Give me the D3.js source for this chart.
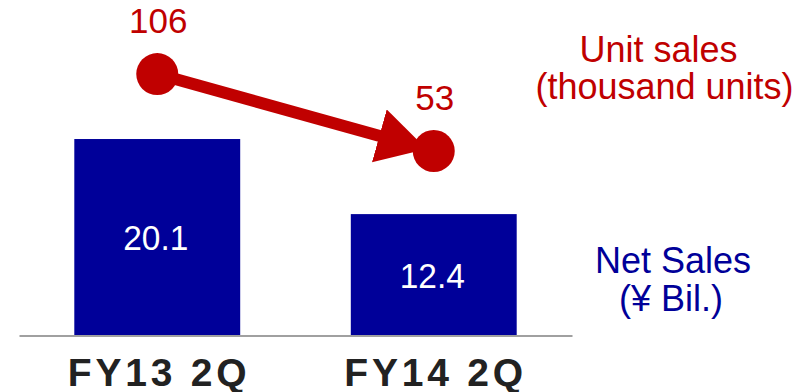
<!DOCTYPE html>
<html>
<head>
<meta charset="utf-8">
<script src="https://cdn.jsdelivr.net/npm/d3@7"></script>
<style>
  html, body { margin: 0; padding: 0; background: #ffffff; }
  svg { display: block; }
  text { font-family: "Liberation Sans", Arial, Helvetica, sans-serif; }
</style>
</head>
<body>
<svg id="chart" width="803" height="392"></svg>
<script>
// ---- data ----
const categories = ["FY13 2Q", "FY14 2Q"];
const netSales = [20.1, 12.4];          // ¥ Bil. (bars)
const unitSales = [106, 53];            // thousand units (line)
const netSalesLabel = ["Net Sales", "(¥ Bil.)"];
const unitSalesLabel = ["Unit sales", "(thousand units)"];

// ---- styles ----
const BLUE = "#000099";
const RED = "#c00000";

const svg = d3.select("#chart");

const x = d3.scaleBand()
  .domain(categories)
  .range([19, 572])
  .paddingInner(0.4)
  .paddingOuter(0.2);

const yBar = d3.scaleLinear().domain([0, 24]).range([335, 101]);
const yLine = d3.scaleLinear().domain([0, 120]).range([228, 53.7]);

// bars
svg.append("g").selectAll("rect")
  .data(categories)
  .join("rect")
  .attr("x", d => x(d))
  .attr("width", x.bandwidth())
  .attr("y", (d, i) => yBar(netSales[i]))
  .attr("height", (d, i) => yBar(0) - yBar(netSales[i]))
  .attr("fill", BLUE);

// bar value labels (slightly condensed, as in the reference)
svg.append("g").selectAll("text")
  .data(categories)
  .join("text")
  .attr("transform", (d, i) =>
    `translate(${x(d) + x.bandwidth() / 2 - 1.5},${(yBar(netSales[i]) + yBar(0)) / 2 + 13}) scale(0.93,1)`)
  .attr("text-anchor", "middle")
  .attr("font-size", 36)
  .attr("fill", "#ffffff")
  .text((d, i) => netSales[i].toFixed(1));

// baseline axis
const xAxis = d3.axisBottom(x).tickSize(0).tickPadding(0).tickFormat("");
const axisG = svg.append("g").attr("transform", "translate(0,335.5)").call(xAxis);
axisG.select(".domain").attr("stroke", "#a0a0a0").attr("stroke-width", 2);

// category labels
const LS = 3.8;
svg.append("g").selectAll("text")
  .data(categories)
  .join("text")
  .attr("x", d => x(d) + x.bandwidth() / 2 + LS / 2)
  .attr("y", 385.5)
  .attr("text-anchor", "middle")
  .attr("font-size", 39)
  .attr("font-weight", "bold")
  .attr("letter-spacing", LS)
  .attr("fill", "#222222")
  .text(d => d);

// arrow marker
const defs = svg.append("defs");
defs.append("marker")
  .attr("id", "arrowhead")
  .attr("markerUnits", "userSpaceOnUse")
  .attr("viewBox", "0 0 49 55")
  .attr("refX", 49)
  .attr("refY", 27.5)
  .attr("markerWidth", 49)
  .attr("markerHeight", 55)
  .attr("orient", "auto")
  .append("path")
  .attr("d", "M0,0L49,27.5L0,55Z")
  .attr("fill", RED);

// line points
const pts = categories.map((c, i) => [x(c) + x.bandwidth() / 2, yLine(unitSales[i])]);
// stop the arrow shortly before the second point's centre
const p0 = pts[0], p1 = pts[1];
const dx = p1[0] - p0[0], dy = p1[1] - p0[1];
const len = Math.hypot(dx, dy);
const back = 7.5;
const tip = [p1[0] - dx / len * back, p1[1] - dy / len * back];

svg.append("path")
  .datum([p0, tip])
  .attr("d", d3.line())
  .attr("fill", "none")
  .attr("stroke", RED)
  .attr("stroke-width", 12)
  .attr("marker-end", "url(#arrowhead)");

// circles
svg.append("g").selectAll("circle")
  .data(pts)
  .join("circle")
  .attr("cx", d => d[0])
  .attr("cy", d => d[1])
  .attr("r", 21)
  .attr("fill", RED);

// line value labels
svg.append("g").selectAll("text")
  .data(pts)
  .join("text")
  .attr("x", d => d[0] + 1)
  .attr("y", d => d[1] - 41.5)
  .attr("text-anchor", "middle")
  .attr("font-size", 35)
  .attr("fill", RED)
  .text((d, i) => unitSales[i]);

// series labels
svg.append("text")
  .attr("text-anchor", "middle")
  .attr("font-size", 36)
  .attr("fill", RED)
  .selectAll("tspan")
  .data(unitSalesLabel)
  .join("tspan")
  .attr("x", (d, i) => i === 0 ? 658.5 : 664.5)
  .attr("y", (d, i) => 61.5 + i * 37.5)
  .text(d => d);

svg.append("text")
  .attr("text-anchor", "middle")
  .attr("font-size", 36)
  .attr("fill", BLUE)
  .selectAll("tspan")
  .data(netSalesLabel)
  .join("tspan")
  .attr("x", (d, i) => i === 0 ? 673 : 671)
  .attr("y", (d, i) => 272.5 + i * 38)
  .text(d => d);
</script>
</body>
</html>
